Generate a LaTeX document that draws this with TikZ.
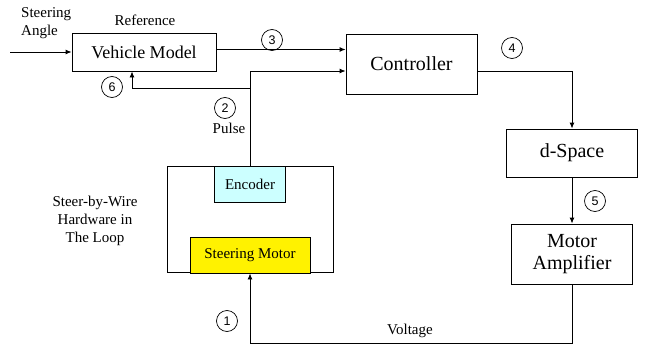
\documentclass[tikz,border=0pt]{standalone}
\usepackage{fontspec}
\setmainfont{Liberation Serif}
\newfontfamily\digitfont{Liberation Sans}
\usetikzlibrary{arrows.meta}
\definecolor{enccyan}{HTML}{CCFFFF}

\begin{document}
\begin{tikzpicture}[
  x=1pt, y=-1pt,
  block/.style={rectangle, draw, line width=0.9pt, align=center, inner sep=0pt, font=\fontsize{20}{22}\selectfont},
  part/.style={rectangle, draw, line width=0.9pt, inner sep=0pt, font=\fontsize{15}{18}\selectfont},
  num/.style={circle, draw, line width=0.7pt, minimum size=21pt, inner sep=0pt, font=\digitfont\fontsize{12.5}{14}\selectfont},
  lbl/.style={align=center, inner sep=0pt, font=\fontsize{15}{18}\selectfont},
  arrow/.style={-{Latex[length=6pt,width=5pt]}, line width=0.9pt}
]
\useasboundingbox (0,0) rectangle (645,345);

% Main Blocks
\node[block, minimum width=144pt, minimum height=38pt, font=\fontsize{18}{20}\selectfont] (vm) at (144,52) {Vehicle Model};
\node[block, minimum width=131pt, minimum height=60pt] (ctrl) at (411.5,64) {Controller};
\node[block, minimum width=131pt, minimum height=48pt] (dspace) at (572,153) {d-Space};
\node[block, minimum width=121pt, minimum height=60pt] (amp) at (572,254) {Motor\\Amplifier};

% Hardware in the Loop
\node[part, minimum width=166pt, minimum height=106pt] (hw) at (250,219) {};
\node[part, fill=enccyan, minimum width=71pt, minimum height=36pt] (enc) at (250,184) {Encoder};
\node[part, fill=yellow, minimum width=120pt, minimum height=36pt] (motor) at (250,255) {Steering Motor};

% Labels
\node[lbl, align=left, anchor=west] (angle) at (21,23) {Steering\\Angle};
\node[lbl] (ref) at (145,20) {Reference};
\node[lbl] (pulse) at (229,128) {Pulse};
\node[lbl] (voltage) at (410,331) {Voltage};
\node[lbl] (hwtext) at (95,221) {Steer-by-Wire\\Hardware in\\The Loop};

% Numbered Markers
\node[num] (n1) at (227,321) {1};
\node[num] (n2) at (225,108) {2};
\node[num] (n3) at (272,40) {3};
\node[num] (n4) at (512,48) {4};
\node[num] (n5) at (595,201) {5};
\node[num] (n6) at (112,87) {6};

% Signal Edges
\coordinate (in) at (10,52);
\coordinate (tap) at (250,88);
\draw[arrow] (in) -- (vm);
\draw[arrow] ([yshift=2.5pt]vm.east) -- ([yshift=2.5pt]vm.east -| ctrl.west);
\draw[arrow] (enc.north) |- ([yshift=-7pt]ctrl.west);
\draw[arrow] (tap) -| ([xshift=-12pt]vm.south);
\draw[arrow] ([yshift=-7pt]ctrl.east) -| (dspace.north);
\draw[arrow] (dspace) -- (amp);
\draw[arrow] (amp.south) -- ++(0,59) -| (motor.south);
\end{tikzpicture}
\end{document}
